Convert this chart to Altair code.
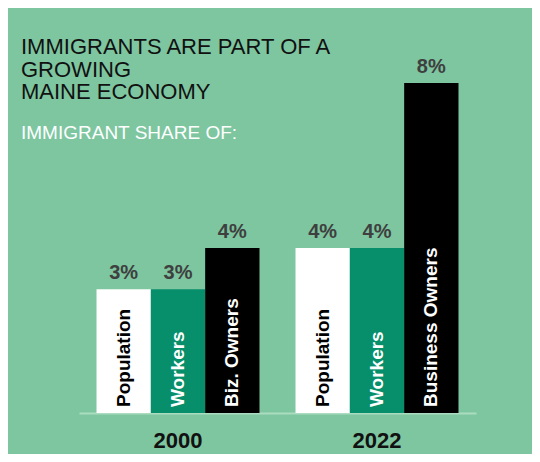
import altair as alt
import pandas as pd

years = ["2000", "2000", "2000", "2022", "2022", "2022"]
groups = ["Population", "Workers", "Owners", "Population", "Workers", "Owners"]
bar_labels = ["Population", "Workers", "Biz. Owners", "Population", "Workers", "Business Owners"]
values = [3, 3, 4, 4, 4, 8]
value_labels = ["3%", "3%", "4%", "4%", "4%", "8%"]

group_order = ["Population", "Workers", "Owners"]
fill_colors = ["#ffffff", "#078f6b", "#000000"]
label_colors = ["#000000", "#ffffff", "#ffffff"]

df = pd.DataFrame({
    "year": years,
    "group": groups,
    "label": bar_labels,
    "value": values,
    "vlabel": value_labels,
})

FONT = "Liberation Sans"
BG = "#7dc6a0"

x_enc = alt.X(
    "year:N",
    scale=alt.Scale(paddingInner=0.181, paddingOuter=0.088),
    axis=alt.Axis(
        title=None, labelAngle=0, ticks=False, tickSize=0, domain=True,
        domainColor="#acdcc0", domainWidth=2, labelFontSize=22,
        labelFontWeight="bold", labelColor="#111111", labelFont=FONT,
        labelPadding=17, grid=False,
    ),
)
xo_enc = alt.XOffset("group:N", scale=alt.Scale(domain=group_order, paddingInner=0, paddingOuter=0))
y_scale = alt.Scale(domain=[0, 8], nice=False, zero=True)

base = alt.Chart(df)

bars = base.mark_bar().encode(
    x=x_enc,
    xOffset=xo_enc,
    y=alt.Y("value:Q", scale=y_scale, axis=None),
    fill=alt.Fill("group:N", scale=alt.Scale(domain=group_order, range=fill_colors), legend=None),
)

vals = base.mark_text(
    font=FONT, fontSize=20, fontWeight="bold", color="#3f3f3f",
    baseline="alphabetic", align="center", dy=-10,
).encode(
    x=x_enc,
    xOffset=xo_enc,
    y=alt.Y("value:Q", scale=y_scale, axis=None),
    text="vlabel:N",
)

names = base.mark_text(
    font=FONT, fontSize=19, fontWeight="bold", angle=270,
    align="left", baseline="middle", dx=6,
).encode(
    x=x_enc,
    xOffset=xo_enc,
    y=alt.Y(datum=0, scale=y_scale, axis=None),
    text="label:N",
    color=alt.Color("group:N", scale=alt.Scale(domain=group_order, range=label_colors), legend=None),
)

chart = alt.layer(bars, vals, names).properties(
    width=397,
    height=330,
    autosize=alt.AutoSizeParams(type="none"),
    padding={"left": 71, "top": 75, "right": 56, "bottom": 41},
    background=BG,
    title=alt.Title(
        text=["IMMIGRANTS ARE PART OF A", "GROWING", "MAINE ECONOMY"],
        subtitle="IMMIGRANT SHARE OF:",
        anchor="start",
        frame="group",
        dx=-58,
        dy=87,
        offset=0,
        font=FONT,
        fontSize=22,
        fontWeight="normal",
        color="#111111",
        lineHeight=22.5,
        subtitleFont=FONT,
        subtitleFontSize=19,
        subtitleColor="#ffffff",
        subtitlePadding=20,
    ),
).configure_view(stroke=None)

chart.save("out.html", embed_options={"renderer": "svg", "actions": False})
